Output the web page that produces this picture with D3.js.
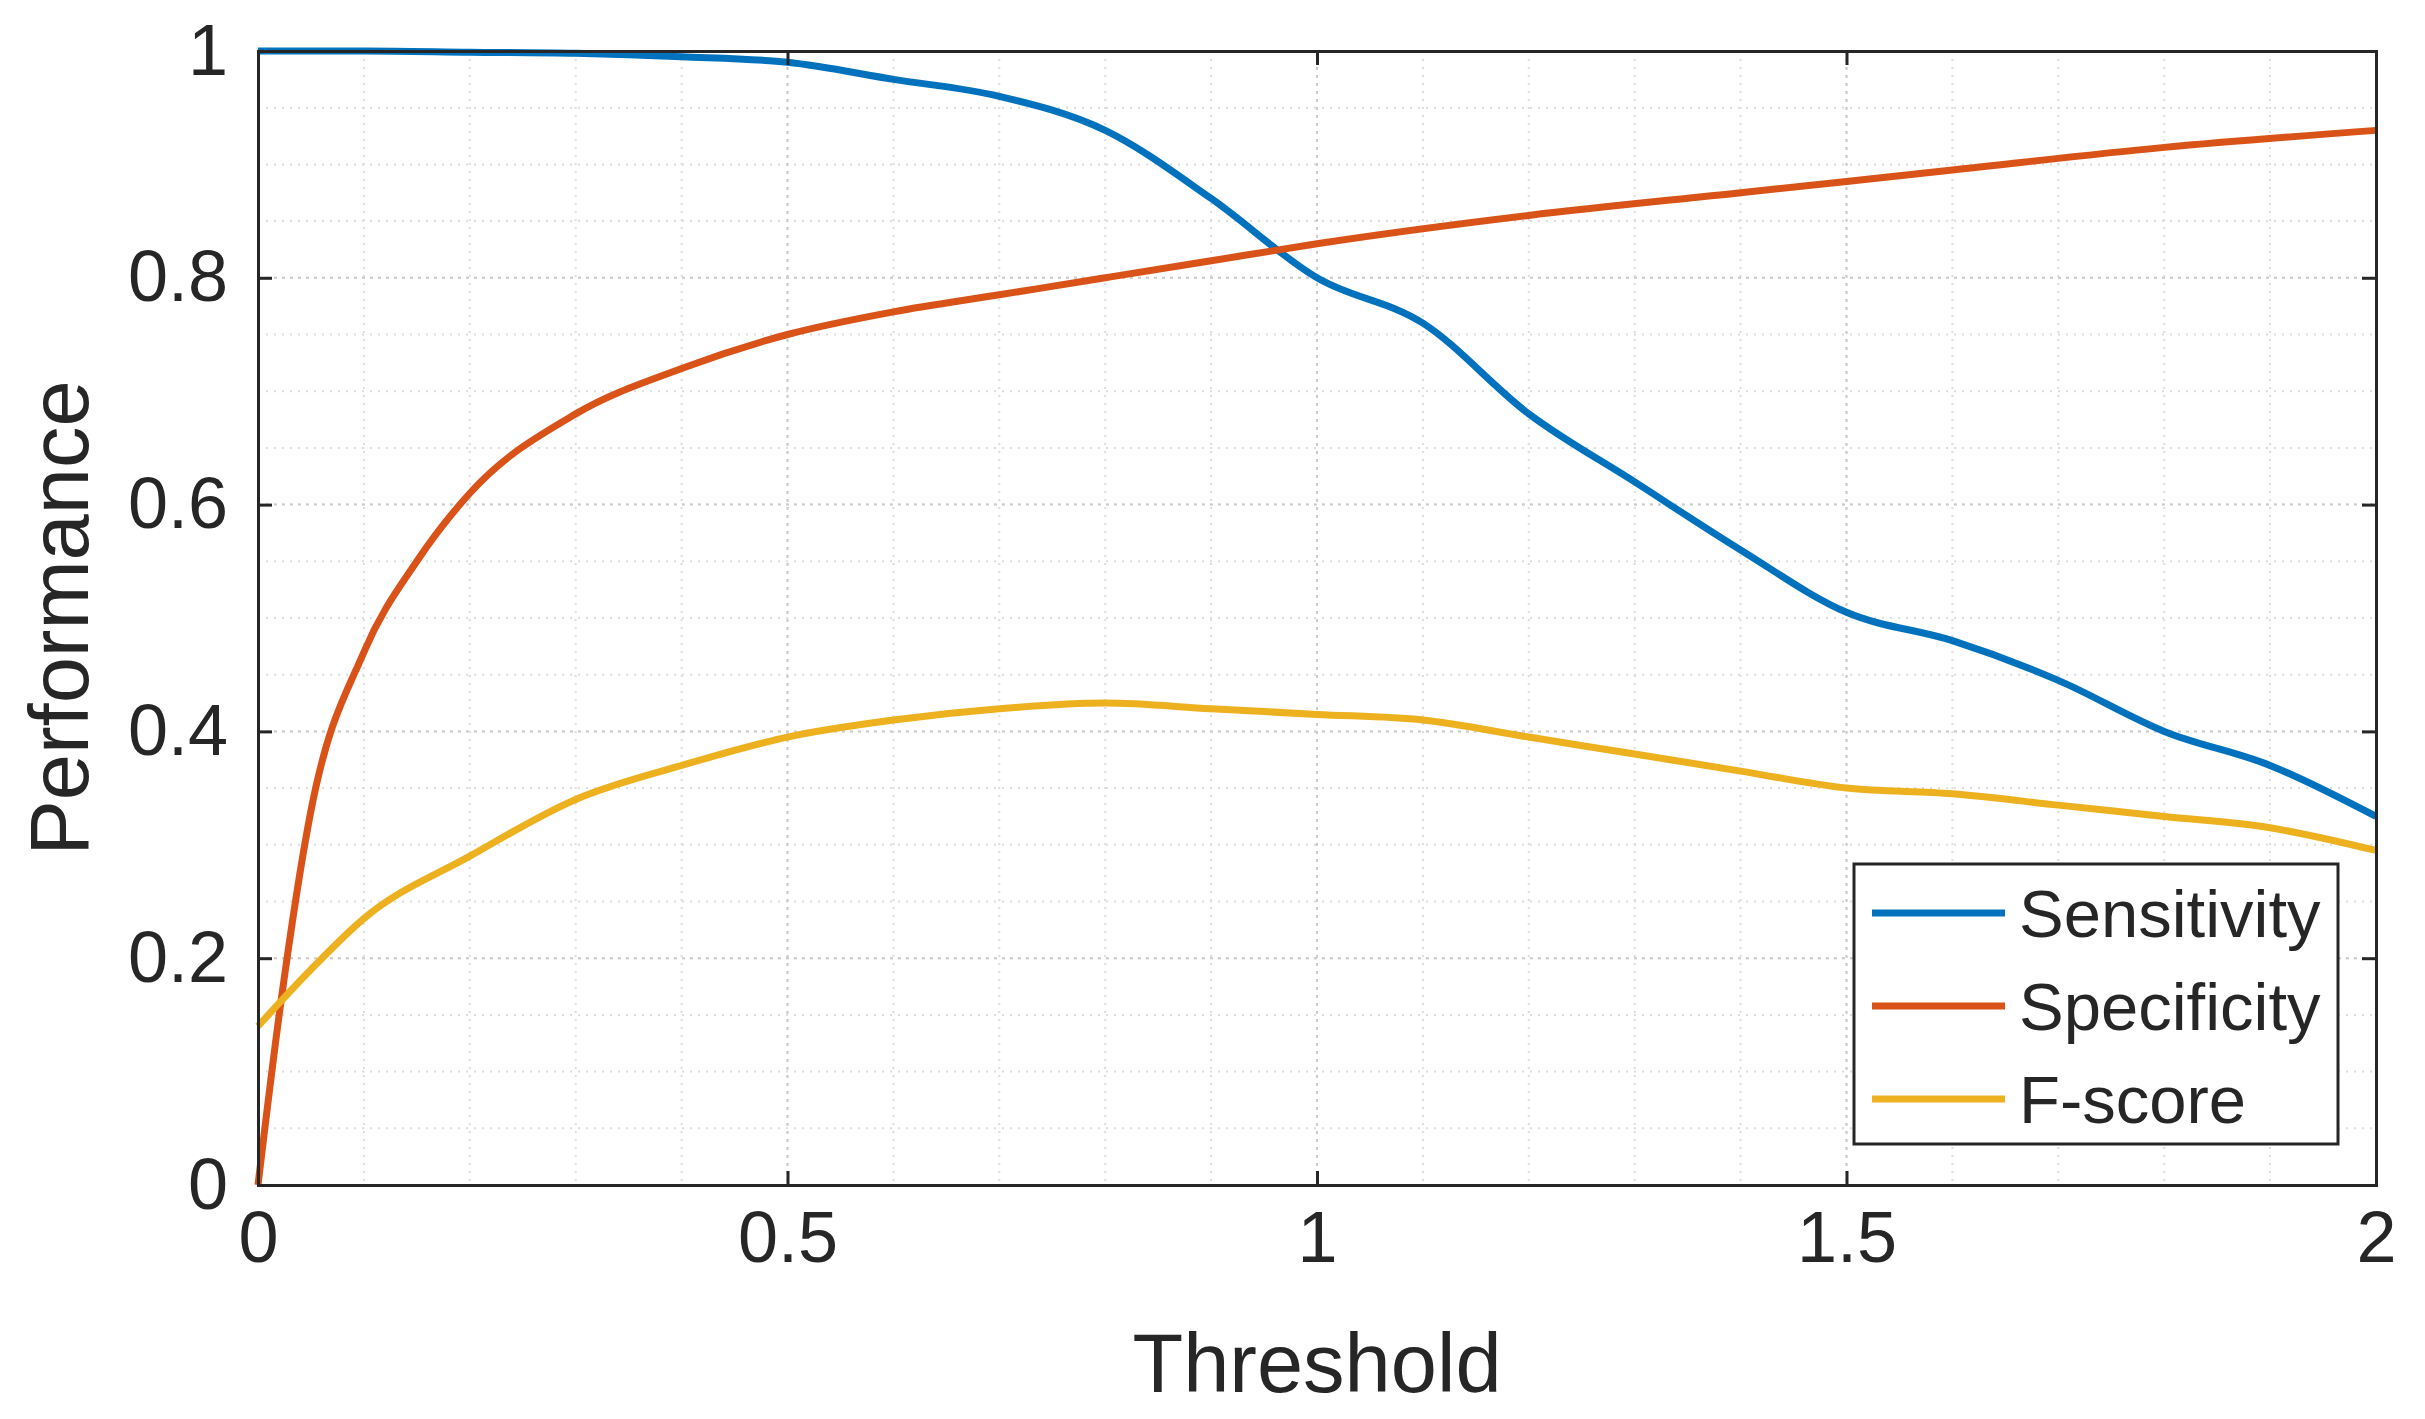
<!DOCTYPE html><html><head><meta charset="utf-8">
<script src="https://cdn.jsdelivr.net/npm/d3@7"></script>
<style>body{margin:0;background:#fff}text{font-family:"Liberation Sans",Arial,sans-serif}</style></head><body>
<svg id="c" width="2425" height="1419"></svg>
<script>
const xSens=[0,0.1,0.2,0.3,0.4,0.5,0.6,0.7,0.8,0.9,1.0,1.1,1.2,1.3,1.4,1.5,1.6,1.7,1.8,1.9,2.0];
const sensitivity=[1.0,1.0,0.999,0.998,0.995,0.99,0.975,0.96,0.93,0.87,0.80,0.76,0.68,0.62,0.56,0.505,0.48,0.445,0.40,0.37,0.325];
const xSpec=[0,0.02,0.05,0.1,0.15,0.2,0.3,0.4,0.5,0.6,0.7,0.8,0.9,1.0,1.2,1.4,1.6,1.8,2.0];
const specificity=[0,0.15,0.33,0.47,0.55,0.61,0.68,0.72,0.75,0.77,0.785,0.80,0.815,0.83,0.855,0.875,0.895,0.915,0.93];
const xF=[0,0.05,0.1,0.2,0.3,0.4,0.5,0.6,0.7,0.8,0.9,1.0,1.1,1.2,1.3,1.4,1.5,1.6,1.7,1.8,1.9,2.0];
const fscore=[0.14,0.19,0.235,0.29,0.34,0.37,0.395,0.41,0.42,0.425,0.42,0.415,0.41,0.395,0.38,0.365,0.35,0.345,0.335,0.325,0.315,0.295];
const seriesNames=["Sensitivity","Specificity","F-score"];
const colors=["#0072BD","#D95319","#EDB120"];
const xTicks=[0,0.5,1,1.5,2], yTicks=[0,0.2,0.4,0.6,0.8,1];

const L=258,R=2376,T=51,B=1185;
const svg=d3.select("#c");
const x=d3.scaleLinear().domain([0,2]).range([L,R]);
const y=d3.scaleLinear().domain([0,1]).range([B,T]);
const g=svg.append("g");
d3.range(0,2.0001,0.1).forEach(v=>g.append("line").attr("x1",x(v)).attr("x2",x(v)).attr("y1",T).attr("y2",B).attr("stroke","#ddd").attr("stroke-width",2).attr("stroke-dasharray","2,6"));
d3.range(0,1.0001,0.05).forEach(v=>g.append("line").attr("y1",y(v)).attr("y2",y(v)).attr("x1",L).attr("x2",R).attr("stroke","#ddd").attr("stroke-width",2).attr("stroke-dasharray","2,6"));
xTicks.forEach(v=>g.append("line").attr("x1",x(v)).attr("x2",x(v)).attr("y1",T).attr("y2",B).attr("stroke","#ccc").attr("stroke-width",2).attr("stroke-dasharray","3,5"));
yTicks.forEach(v=>g.append("line").attr("y1",y(v)).attr("y2",y(v)).attr("x1",L).attr("x2",R).attr("stroke","#ccc").attr("stroke-width",2).attr("stroke-dasharray","3,5"));
const data=[[xSens,sensitivity],[xSpec,specificity],[xF,fscore]];
const line=d3.line().x(d=>x(d[0])).y(d=>y(d[1])).curve(d3.curveMonotoneX);
data.forEach((s,i)=>svg.append("path").attr("d",line(s[0].map((v,j)=>[v,s[1][j]]))).attr("fill","none").attr("stroke",colors[i]).attr("stroke-width",7));
const ax=svg.append("g").attr("transform",`translate(0,${B})`).call(d3.axisBottom(x).tickValues(xTicks).tickFormat(d3.format("~g")).tickSize(-14).tickPadding(26));
const ax2=svg.append("g").attr("transform",`translate(0,${T})`).call(d3.axisTop(x).tickValues(xTicks).tickFormat("").tickSize(-14));
const ay=svg.append("g").attr("transform",`translate(${L},0)`).call(d3.axisLeft(y).tickValues(yTicks).tickFormat(d3.format("~g")).tickSize(-14).tickPadding(30));
const ay2=svg.append("g").attr("transform",`translate(${R},0)`).call(d3.axisRight(y).tickValues(yTicks).tickFormat("").tickSize(-14));
[ax,ax2,ay,ay2].forEach(a=>{a.selectAll("path,line").attr("stroke","#262626").attr("stroke-width",3);a.selectAll("text").attr("font-size",72).attr("fill","#262626").attr("font-family","Liberation Sans, Arial")});
svg.append("text").attr("x",(L+R)/2).attr("y",1392).attr("text-anchor","middle").attr("font-size",83).attr("fill","#262626").text("Threshold");
svg.append("text").attr("transform",`translate(88,${(T+B)/2}) rotate(-90)`).attr("text-anchor","middle").attr("font-size",83).attr("fill","#262626").text("Performance");
const lg=svg.append("g");
lg.append("rect").attr("x",1854).attr("y",864).attr("width",484).attr("height",280).attr("fill","#fff").attr("stroke","#262626").attr("stroke-width",3);
seriesNames.forEach((n,i)=>{const yy=913+i*93;
lg.append("line").attr("x1",1872).attr("x2",2005).attr("y1",yy).attr("y2",yy).attr("stroke",colors[i]).attr("stroke-width",7);
lg.append("text").attr("x",2019).attr("y",yy+24).attr("font-size",67).attr("fill","#262626").text(n);});
</script></body></html>
